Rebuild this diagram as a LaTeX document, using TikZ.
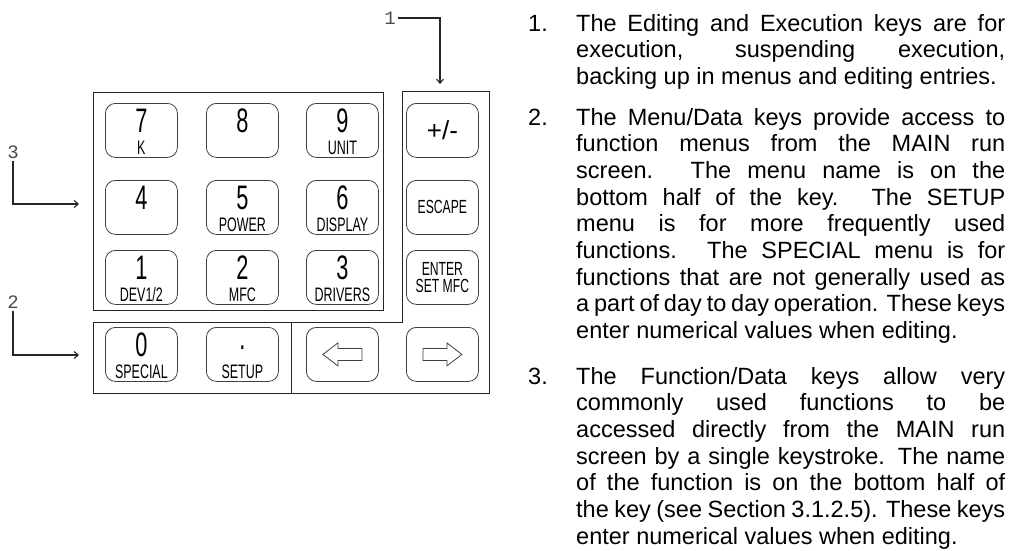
\documentclass[tikz,border=0pt]{standalone}
\usepackage{fontspec}
\setmainfont{Liberation Sans}
\newfontfamily\keyfont[FakeStretch=0.64]{Liberation Sans}
\newfontfamily\calloutfont{Liberation Mono}
\usetikzlibrary{arrows.meta,calc}
\tolerance=10000
\hbadness=10000

\tikzset{
  keycap/.style={draw=black!75, line width=0.8pt, rounded corners=10pt,
    minimum width=72pt, minimum height=54pt, anchor=north west, inner sep=0pt},
  digit/.style={anchor=base, inner sep=0pt, font=\keyfont\fontsize{34}{34}\selectfont},
  keyname/.style={anchor=base, inner sep=0pt, font=\keyfont\fontsize{19.5}{19.5}\selectfont},
  keyword/.style={align=center, font=\keyfont\fontsize{19}{17.5}\selectfont},
  glyph/.style={draw=black!75, line width=0.8pt, line join=miter},
  panel/.style={draw=black!85, line width=0.8pt},
  callout/.style={draw=black!85, line width=1.1pt, -{Straight Barb[length=4pt,width=7pt]}},
  calloutnum/.style={inner sep=2pt, text=black!70, font=\calloutfont\fontsize{19}{19}\selectfont},
  itemnum/.style={anchor=base west, inner sep=0pt, font=\fontsize{23.5}{26.7}\selectfont},
  itemtext/.style={anchor=base west, inner sep=0pt, text width=429pt, align=justify,
    font=\fontsize{23.5}{26.7}\selectfont},
}

\begin{document}
\begin{tikzpicture}[x=1pt,y=-1pt]
  \useasboundingbox (0,0) rectangle (1011,550);
  \fill[white] (0,0) rectangle (1011,550);

  % keypad frames
  \draw[panel] (93,92) rectangle (383,310);
  \draw[panel] (93,322) -- (402,322) -- (402,91) -- (489,91) -- (489,393) -- (93,393) -- cycle;
  \draw[panel] (291,322) -- (291,393);

  % function/data and menu/data keys
  \foreach \name/\dig/\sub/\x/\y in {
      k7/7/K/105/103, k8/8//206/103, k9/9/UNIT/306/103,
      k4/4//105/180, k5/5/POWER/206/180, k6/6/DISPLAY/306/180,
      k1/1/{DEV1/2}/105/250, k2/2/MFC/206/250, k3/3/DRIVERS/306/250,
      k0/0/SPECIAL/105/327, kdot/{\raisebox{7pt}{.}}/SETUP/206/327} {
    \node[keycap] (\name) at (\x,\y) {};
    \node[digit] (\name d) at ([yshift=-29pt]\name.north) {\dig};
    \node[keyname] (\name n) at ([yshift=-51pt]\name.north) {\sub};
  }

  % editing and execution keys
  \node[keycap, font=\fontsize{26}{26}\selectfont] (kpm) at (406,103) {+/-};
  \node[keycap, keyword] (kesc) at (406,180) {ESCAPE};
  \node[keycap, keyword] (kent) at (406,250) {ENTER\\SET MFC};
  \node[keycap] (kleft) at (306,327) {};
  \node[keycap] (kright) at (406,327) {};
  \draw[glyph] ([xshift=-19.5pt]kleft.center) -- ++(15,11.5) -- ++(0,-5.5) -- ++(24,0)
    -- ++(0,-12) -- ++(-24,0) -- ++(0,-5.5) -- cycle;
  \draw[glyph] ([xshift=19.5pt]kright.center) -- ++(-15,11.5) -- ++(0,-5.5) -- ++(-24,0)
    -- ++(0,-12) -- ++(24,0) -- ++(0,-5.5) -- cycle;

  % callouts
  \node[calloutnum] (c1) at (390,18) {1};
  \coordinate (c1end) at (440,84);
  \draw[callout] (c1.east) -| (c1end);
  \node[calloutnum] (c3) at (13,152) {3};
  \coordinate (c3end) at (79,204);
  \draw[callout] (c3.south) |- (c3end);
  \node[calloutnum] (c2) at (13,302) {2};
  \coordinate (c2end) at (79,355);
  \draw[callout] (c2.south) |- (c2end);

  % numbered notes
  \node[itemnum] (n1) at (528,31) {1.};
  \node[itemtext] (t1) at (576,31) {The Editing and Execution keys are for\linebreak
    execution, suspending execution,\linebreak
    backing up in menus and editing entries.};
  \node[itemnum] (n2) at (528,125) {2.};
  \node[itemtext] (t2) at (576,125) {The Menu/Data keys provide access to\linebreak
    function menus from the MAIN run\linebreak
    screen.  The menu name is on the\linebreak
    bottom half of the key.  The SETUP\linebreak
    menu is for more frequently used\linebreak
    functions.  The SPECIAL menu is for\linebreak
    functions that are not generally used as\linebreak
    a part of day to day operation.  These keys\linebreak
    enter numerical values when editing.};
  \node[itemnum] (n3) at (528,384) {3.};
  \node[itemtext] (t3) at (576,384) {The Function/Data keys allow very\linebreak
    commonly used functions to be\linebreak
    accessed directly from the MAIN run\linebreak
    screen by a single keystroke.  The name\linebreak
    of the function is on the bottom half of\linebreak
    the key (see Section 3.1.2.5).  These keys\linebreak
    enter numerical values when editing.};
\end{tikzpicture}
\end{document}
